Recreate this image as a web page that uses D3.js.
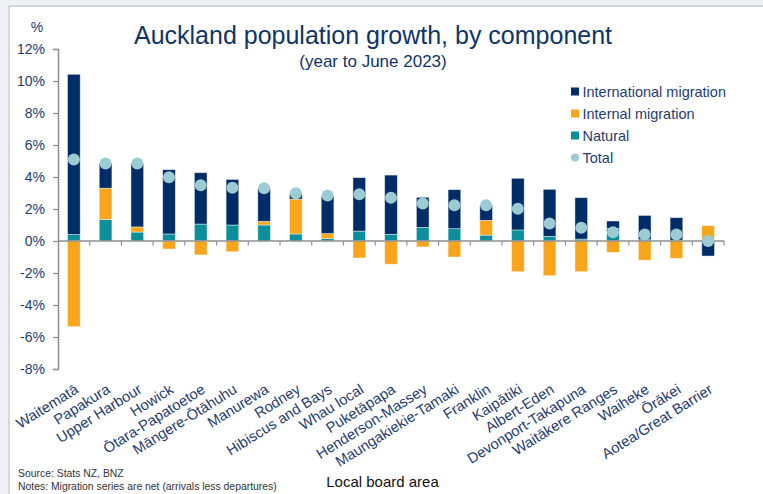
<!DOCTYPE html>
<html>
<head>
<meta charset="utf-8">
<script src="https://cdn.jsdelivr.net/npm/d3@7/dist/d3.min.js"></script>
<style>
  html, body { margin: 0; padding: 0; background: #eef0f5; }
  svg { display: block; }
  text { font-family: "Liberation Sans", Arial, sans-serif; }
</style>
</head>
<body>
<svg id="chart" width="763" height="494"></svg>
<script>
const categories = ["Waitematā","Papakura","Upper Harbour","Howick","Ōtara-Papatoetoe","Māngere-Ōtāhuhu","Manurewa","Rodney","Hibiscus and Bays","Whau local","Puketāpapa","Henderson-Massey","Maungakiekie-Tamaki","Franklin","Kaipātiki","Albert-Eden","Devonport-Takapuna","Waitākere Ranges","Waiheke","Ōrākei","Aotea/Great Barrier"];
const natural  = [0.40,1.35,0.56,0.44,1.06,1.00,1.00,0.44,0.15,0.62,0.42,0.85,0.77,0.37,0.69,0.29,0.12,0.79,0.08,0.05,0.02];
const internal = [-5.35,1.95,0.32,-0.50,-0.87,-0.67,0.23,2.18,0.31,-1.06,-1.45,-0.37,-1.00,0.92,-1.92,-2.17,-1.92,-0.71,-1.20,-1.08,0.94];
const international = [10.02,1.55,3.95,4.02,3.21,2.85,2.02,0.32,2.35,3.34,3.70,1.88,2.44,0.92,3.23,2.94,2.59,0.46,1.52,1.41,-0.94];
const total = [5.10,4.85,4.85,3.98,3.48,3.33,3.29,2.98,2.85,2.92,2.71,2.35,2.23,2.23,2.02,1.10,0.83,0.54,0.40,0.40,0.00];
const yTicks = [-8,-6,-4,-2,0,2,4,6,8,10,12];
const seriesKeys = ["natural","internal","international"];
const legendLabels = ["International migration","Internal migration","Natural","Total"];

const colors = { international: "#002d67", internal: "#f8a51b", natural: "#0d8e9b", total: "#9ccbd3" };
const navyText = "#1f3c70";

const svg = d3.select("#chart");

// panel
svg.append("rect").attr("x", 9).attr("y", 6).attr("width", 763).attr("height", 500)
  .attr("fill", "#ffffff").attr("stroke", "#c9cbcf").attr("stroke-width", 1.5);

const rows = categories.map((c, i) => ({ cat: c, natural: natural[i], internal: internal[i], international: international[i], total: total[i] }));

const x = d3.scaleBand().domain(categories).range([58, 724]).paddingInner(0.6).paddingOuter(0.3);
const y = d3.scaleLinear().domain([-8, 12]).range([369, 49]);

const stack = d3.stack().keys(seriesKeys).offset(d3.stackOffsetDiverging);
const stacked = stack(rows);

// bars
svg.append("g").selectAll("g").data(stacked).join("g")
  .attr("fill", d => colors[d.key])
  .selectAll("rect").data(d => d).join("rect")
  .attr("x", d => x(d.data.cat))
  .attr("width", x.bandwidth())
  .attr("y", d => y(Math.max(d[0], d[1])))
  .attr("height", d => Math.abs(y(d[0]) - y(d[1])))
  .attr("stroke", "#ffffff").attr("stroke-opacity", 0.55).attr("stroke-width", 0.8);

// y axis
const yAxis = d3.axisLeft(y).tickValues(yTicks).tickSize(5).tickFormat(d => d + "%");
const gy = svg.append("g").attr("transform", "translate(58,0)").call(yAxis);
gy.select(".domain").attr("stroke", "#8f8f8f").attr("stroke-width", 1.5);
gy.selectAll(".tick line").attr("stroke", "#8f8f8f").attr("stroke-width", 1.2);
gy.selectAll(".tick text").attr("fill", navyText).attr("font-size", 14).attr("x", -13)
  .attr("font-family", "Liberation Sans, Arial, sans-serif");

// x axis line at zero
const step = x.step();
const gap = (step - x.bandwidth()) / 2;
const bounds = categories.map(c => x(c) - gap).concat([x(categories[categories.length - 1]) + x.bandwidth() + gap]);
svg.append("line").attr("x1", 58).attr("x2", bounds[bounds.length - 1]).attr("y1", y(0)).attr("y2", y(0))
  .attr("stroke", "#8f8f8f").attr("stroke-width", 1.5);
svg.append("g").selectAll("line").data(bounds.slice(1)).join("line")
  .attr("x1", d => d).attr("x2", d => d).attr("y1", y(0)).attr("y2", y(0) + 4.5)
  .attr("stroke", "#8f8f8f").attr("stroke-width", 1.2);

// total dots
svg.append("g").selectAll("circle").data(rows).join("circle")
  .attr("cx", d => x(d.cat) + x.bandwidth() / 2)
  .attr("cy", d => y(d.total))
  .attr("r", 6).attr("fill", colors.total);

// x labels
svg.append("g").selectAll("text").data(categories).join("text")
  .attr("transform", d => `translate(${x(d) + x.bandwidth() / 2 + 5.5},${392}) rotate(-32)`)
  .attr("text-anchor", "end")
  .attr("font-size", 14.7).attr("fill", navyText)
  .text(d => d);

// "%" label
svg.append("text").attr("x", 37).attr("y", 32).attr("text-anchor", "middle")
  .attr("font-size", 14).attr("fill", navyText).text("%");

// titles
svg.append("text").attr("x", 373).attr("y", 44).attr("text-anchor", "middle")
  .attr("font-size", 25).attr("fill", "#0e3468").text("Auckland population growth, by component");
svg.append("text").attr("x", 373).attr("y", 67).attr("text-anchor", "middle")
  .attr("font-size", 17).attr("fill", "#0e3468").text("(year to June 2023)");

// legend
const legendItems = [
  { label: legendLabels[0], color: colors.international, type: "rect" },
  { label: legendLabels[1], color: colors.internal, type: "rect" },
  { label: legendLabels[2], color: colors.natural, type: "rect" },
  { label: legendLabels[3], color: colors.total, type: "circle" }
];
const lg = svg.append("g").selectAll("g").data(legendItems).join("g")
  .attr("transform", (d, i) => `translate(571,${91.5 + i * 22})`);
lg.filter(d => d.type === "rect").append("rect").attr("x", 0).attr("y", -4).attr("width", 8).attr("height", 8).attr("fill", d => d.color);
lg.filter(d => d.type === "circle").append("circle").attr("cx", 4).attr("cy", 0).attr("r", 4).attr("fill", d => d.color);
lg.append("text").attr("x", 11.5).attr("y", 0).attr("dy", "0.35em").attr("font-size", 14.5).attr("fill", navyText).text(d => d.label);

// footer
svg.append("text").attr("x", 18).attr("y", 477).attr("font-size", 10.4).attr("fill", "#333").text("Source: Stats NZ, BNZ");
svg.append("text").attr("x", 18).attr("y", 489.5).attr("font-size", 10.4).attr("fill", "#333").text("Notes: Migration series are net (arrivals less departures)");
svg.append("text").attr("x", 382.5).attr("y", 487).attr("text-anchor", "middle").attr("font-size", 15).attr("fill", "#111").text("Local board area");
</script>
</body>
</html>
